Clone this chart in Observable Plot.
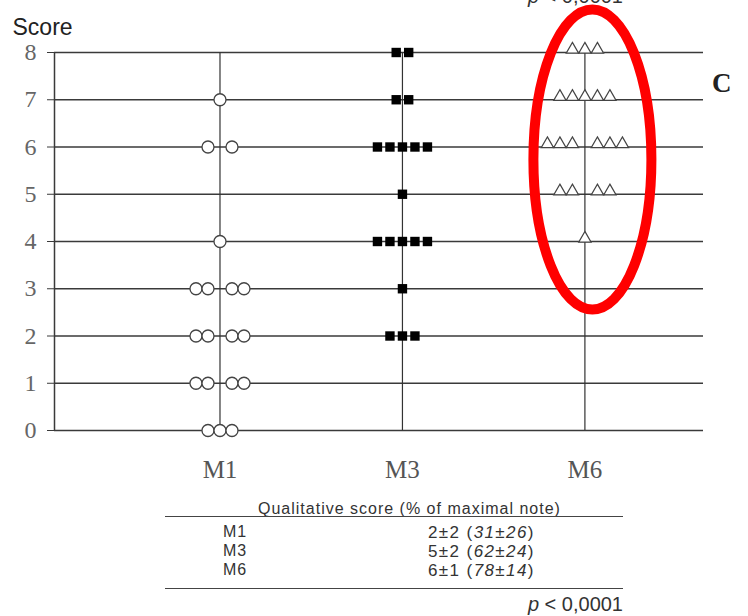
<!DOCTYPE html>
<html>
<head>
<meta charset="utf-8">
<script src="https://cdn.jsdelivr.net/npm/d3@7"></script>
<script src="https://cdn.jsdelivr.net/npm/@observablehq/plot@0.6"></script>
<style>
  body { margin: 0; background: #fff; width: 748px; height: 616px; overflow: hidden; position: relative;
         font-family: "Liberation Sans", Arial, sans-serif; color: #333; }
  #chart { position: absolute; left: 0; top: 0; }
  .txt { position: absolute; white-space: nowrap; }
  .rule { position: absolute; height: 0; border-top: 1.6px solid #444; }
</style>
</head>
<body>
<div id="chart"></div>
<script>
// Qualitative score (0–8) of each patient at months 1, 3 and 6:
// number of patients reaching each score, per visit.
const scores   = [0, 1, 2, 3, 4, 5, 6, 7, 8];
const groups   = ["M1", "M3", "M6"];
const countsM1 = [3, 4, 4, 4, 1, 0, 2, 1, 0];
const countsM3 = [0, 0, 3, 1, 5, 1, 5, 2, 2];
const countsM6 = [0, 0, 0, 0, 1, 4, 6, 5, 3];

// Summary table: mean ± SD of the score and of the % of maximal note.
const scoreMean = [2, 5, 6];
const scoreSd   = [2, 2, 1];
const pctMean   = [31, 62, 78];
const pctSd     = [26, 24, 14];
const pValue    = "0,0001";

// Layout
const width = 748, height = 480;
const marginLeft = 54, marginRight = 45, marginTop = 52, marginBottom = 50;
const xDomain = [0.093, 3.65];
const pxPerUnit = (width - marginLeft - marginRight) / (xDomain[1] - xDomain[0]);

// Spread the patients sharing a score side by side around their visit line.
// With `gap`, even rows leave the centre free for the vertical line.
function spread(counts, groupIndex, stepPx, gap) {
  const out = [];
  counts.forEach((n, s) => {
    for (let k = 0; k < n; ++k) {
      let off;
      if (gap && n % 2 === 0) off = k < n / 2 ? -(n / 2 - k) : (k - n / 2 + 1);
      else off = k - (n - 1) / 2;
      out.push({group: groups[groupIndex], score: scores[s], x: groupIndex + 1 + off * stepPx / pxPerUnit});
    }
  });
  return out;
}
const dotsM1 = spread(countsM1, 0, 12, true);
const dotsM3 = spread(countsM3, 1, 12.5, false);
const dotsM6 = spread(countsM6, 2, 12.5, true);

// Red ellipse around the M6 cloud
const highlight = {groupIndex: 2, scoreLow: 2.55, scoreHigh: 8.9, rx: 59, shift: 8};
function highlightMark(index, scales) {
  const cx = scales.x(highlight.groupIndex + 1) + highlight.shift;
  const y1 = scales.y(highlight.scoreHigh), y2 = scales.y(highlight.scoreLow);
  return d3.create("svg:ellipse")
    .attr("cx", cx).attr("cy", (y1 + y2) / 2)
    .attr("rx", highlight.rx).attr("ry", Math.abs(y2 - y1) / 2)
    .attr("fill", "none").attr("stroke", "#ff0000").attr("stroke-width", 10)
    .node();
}

const chart = Plot.plot({
  width, height, marginLeft, marginRight, marginTop, marginBottom,
  style: {background: "white", overflow: "visible", fontFamily: "'Liberation Serif', serif", color: "#3a3a3a"},
  x: {type: "linear", domain: xDomain},
  y: {domain: [0, 8]},
  marks: [
    Plot.ruleY(scores, {stroke: "#3a3a3a", strokeWidth: 1.5}),
    Plot.ruleX([marginLeft], {x: () => xDomain[0], y1: 0, y2: 8, stroke: "#3a3a3a", strokeWidth: 1.5}),
    Plot.ruleX(groups, {x: (d, i) => i + 1, y1: 0, y2: 8, stroke: "#333", strokeWidth: 1.2}),
    Plot.axisY({ticks: scores, tickSize: 7, tickPadding: 11, fontSize: 24,
                fontFamily: "'Liberation Serif', serif", fill: "#666", stroke: "#3a3a3a", label: null}),
    Plot.axisX({ticks: [1, 2, 3], tickFormat: d => groups[d - 1], tickSize: 0, tickPadding: 30,
                fontSize: 25, fontFamily: "'Liberation Serif', serif", fill: "#555", label: null}),
    Plot.dot(dotsM1, {x: "x", y: "score", r: 6, fill: "white", stroke: "#444", strokeWidth: 1.3}),
    Plot.dot(dotsM3, {x: "x", y: "score", symbol: "square", r: 5.3, fill: "black"}),
    Plot.dot(dotsM6, {x: "x", y: "score", symbol: "triangle", r: 4.6, dy: -3, fill: "white", stroke: "#444", strokeWidth: 1.2}),
    Plot.text(["Score"], {frameAnchor: "top-left", dx: -42, dy: -34, textAnchor: "start",
                          fontFamily: "'Liberation Sans', Arial, sans-serif", fontSize: 23, fill: "#222"}),
    Plot.text(["C"], {frameAnchor: "top-right", dx: 28, dy: 20, fontWeight: "bold", fontSize: 27, fill: "#222"}),
    highlightMark
  ]
});
document.getElementById("chart").appendChild(chart);

// Summary table and significance, drawn as HTML text under the chart
function put(html, left, baseline, size, extra = {}) {
  const el = document.createElement("div");
  el.className = "txt";
  el.innerHTML = html;
  Object.assign(el.style, {left: left + "px", top: (baseline - 0.847 * size) + "px",
                           fontSize: size + "px", lineHeight: size + "px"}, extra);
  document.body.appendChild(el);
  return el;
}
function rule(left, right, y) {
  const el = document.createElement("div");
  el.className = "rule";
  Object.assign(el.style, {left: left + "px", width: (right - left) + "px", top: y + "px"});
  document.body.appendChild(el);
}
const tableLeft = 165, tableRight = 623;

put(`<i>p</i> &lt; ${pValue}`, 0, 3, 20, {left: "auto", right: (748 - tableRight) + "px"});

put("Qualitative score (% of maximal note)", 258, 515, 16, {letterSpacing: "1px"});
rule(tableLeft, tableRight, 516);
const baselines = [538, 557, 576];
groups.forEach((g, i) => {
  put(g, 223, baselines[i], 16, {letterSpacing: "1px"});
  put(`${scoreMean[i]}±${scoreSd[i]} (<i>${pctMean[i]}±${pctSd[i]}</i>)`, 428, baselines[i], 17, {letterSpacing: "1.4px"});
});
rule(tableLeft, tableRight, 588);
put(`<i>p</i> &lt; ${pValue}`, 0, 611, 20, {left: "auto", right: (748 - tableRight) + "px"});
</script>
</body>
</html>
